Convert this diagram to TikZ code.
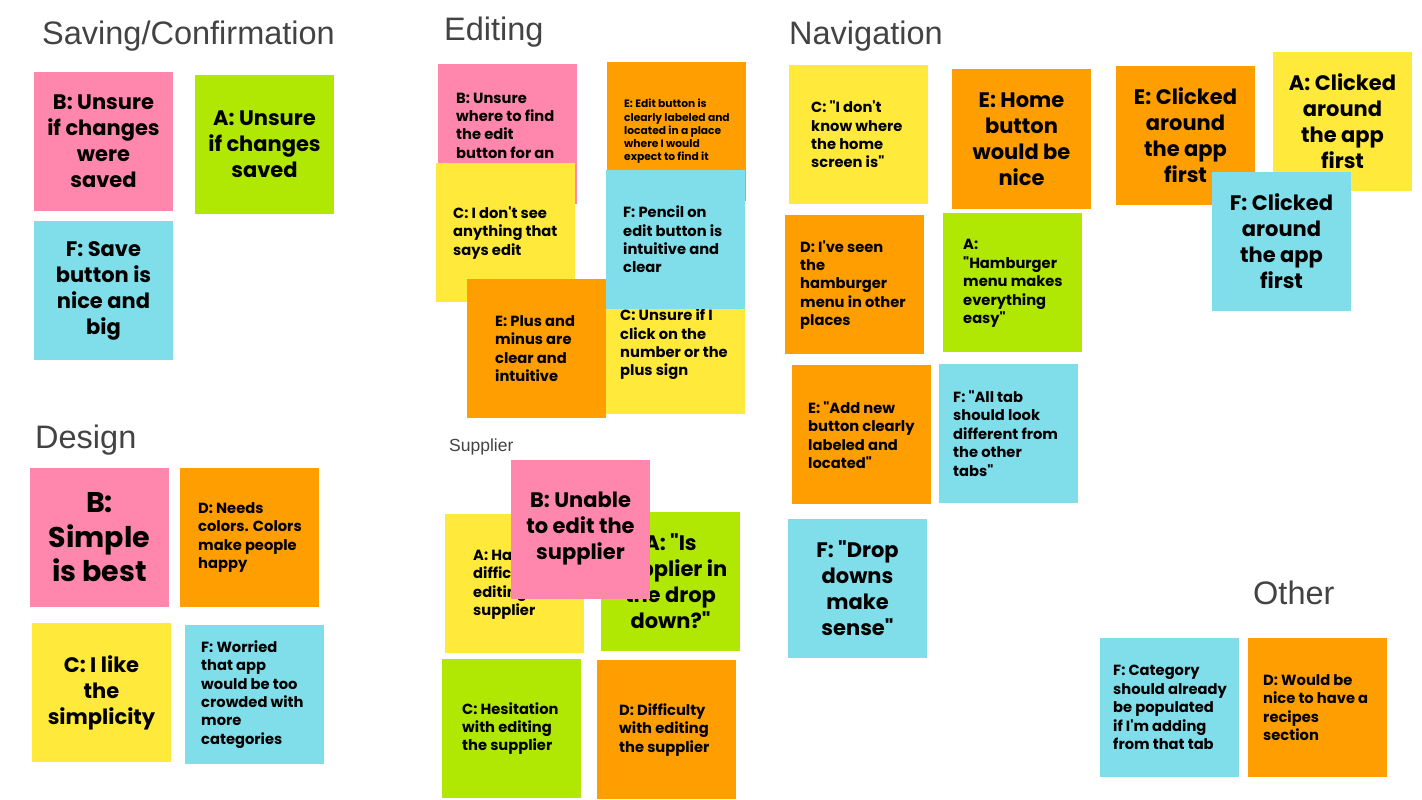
\documentclass[tikz,border=0pt]{standalone}
\usepackage{fontspec}
\setmainfont{Liberation Sans}
\newfontfamily\stickyfont{Poppins}
\definecolor{pinkS}{HTML}{FF87AD}
\definecolor{greenS}{HTML}{B0E804}
\definecolor{yellowS}{HTML}{FFEA3C}
\definecolor{blueS}{HTML}{80DEEA}
\definecolor{orangeS}{HTML}{FF9E00}
\definecolor{titlegray}{HTML}{434343}
\tikzset{
  sticky/.style={rectangle, minimum width=139pt, minimum height=139pt, inner sep=0pt, outer sep=0pt},
  pk/.style={sticky, fill=pinkS},
  gr/.style={sticky, fill=greenS},
  ye/.style={sticky, fill=yellowS},
  bl/.style={sticky, fill=blueS},
  og/.style={sticky, fill=orangeS},
  bigtxt/.style={font=\stickyfont\bfseries\fontsize{21}{26}\selectfont, align=center, inner sep=0pt},
  hugetxt/.style={font=\stickyfont\bfseries\fontsize{28.5}{34.5}\selectfont, align=center, inner sep=0pt},
  smalltxt/.style={font=\stickyfont\bfseries\fontsize{14.7}{18.4}\selectfont, align=left, inner sep=0pt, anchor=west},
  tinytxt/.style={font=\stickyfont\bfseries\fontsize{10.7}{13.3}\selectfont, align=left, inner sep=0pt, anchor=west},
  heading/.style={font=\fontsize{32.5}{38}\selectfont, text=titlegray, anchor=base west, inner sep=0pt},
  subheading/.style={font=\fontsize{17.5}{21}\selectfont, text=titlegray, anchor=base west, inner sep=0pt}
}
\begin{document}
\begin{tikzpicture}[x=1pt,y=-1pt]
\useasboundingbox (0,0) rectangle (1422,800);
\fill[white] (0,0) rectangle (1422,800);

% ---------- Saving/Confirmation ----------
\node[heading] (hsave) at (42,45) {Saving/Confirmation};
\node[pk] (s1) at (103.5,141.5) {};
\node[bigtxt] (t1) at (s1.center) {B: Unsure\\if changes\\were\\saved};
\node[gr] (s2) at (264.5,144.5) {};
\node[bigtxt] (t2) at (s2.center) {A: Unsure\\if changes\\saved};
\node[bl] (s3) at (103.5,290.5) {};
\node[bigtxt] (t3) at (s3.center) {F: Save\\button is\\nice and\\big};

% ---------- Design ----------
\node[heading] (hdesign) at (35,448) {Design};
\node[pk] (s4) at (99.5,537.5) {};
\node[hugetxt] (t4) at (s4.center) {B:\\Simple\\is best};
\node[og] (s5) at (249.5,537.5) {};
\node[smalltxt] (t5) at (198,537.5) {D: Needs\\colors. Colors\\make people\\happy};
\node[ye] (s6) at (101.5,692.5) {};
\node[bigtxt] (t6) at (s6.center) {C: I like\\the\\simplicity};
\node[bl] (s7) at (254.5,694.5) {};
\node[smalltxt] (t7) at (201,694.5) {F: Worried\\that app\\would be too\\crowded with\\more\\categories};

% ---------- Editing ----------
\node[heading] (hedit) at (444,41) {Editing};
\node[pk] (s8) at (507.5,134) {};
\node[smalltxt] (t8) at (456,125.5) {B: Unsure\\where to find\\the edit\\button for an};
\node[og] (s9) at (676.5,131.5) {};
\node[tinytxt] (t9) at (624,131.5) {E: Edit button is\\clearly labeled and\\located in a place\\where I would\\expect to find it};
\node[ye] (s10) at (505.5,232.5) {};
\node[smalltxt] (t10) at (453,233) {C: I don't see\\anything that\\says edit};
\node[ye] (s11) at (675.5,344.5) {};
\node[smalltxt] (t11) at (620,344.5) {C: Unsure if I\\click on the\\number or the\\plus sign};
\node[bl] (s12) at (675.5,239) {};
\node[smalltxt] (t12) at (623,239.5) {F: Pencil on\\edit button is\\intuitive and\\clear};
\node[og] (s13) at (536.5,348.5) {};
\node[smalltxt] (t13) at (495,348.5) {E: Plus and\\minus are\\clear and\\intuitive};

% ---------- Supplier ----------
\node[subheading] (hsupp) at (449,451) {Supplier};
\node[ye] (s14) at (514.5,583) {};
\node[smalltxt] (t14) at (473,584.5) {A: Had\\difficulty\\editing\\supplier};
\node[gr] (s15) at (670.5,581.5) {};
\node[bigtxt] (t15) at (s15.center) {A: "Is\\supplier in\\the drop\\down?"};
\node[pk] (s16) at (580.5,529) {};
\node[bigtxt] (t16) at (s16.center) {B: Unable\\to edit the\\supplier};
\node[gr] (s17) at (511.5,728.5) {};
\node[smalltxt] (t17) at (462,728.5) {C: Hesitation\\with editing\\the supplier};
\node[og] (s18) at (666.5,729) {};
\node[smalltxt] (t18) at (619,730) {D: Difficulty\\with editing\\the supplier};

% ---------- Navigation ----------
\node[heading] (hnav) at (789,45) {Navigation};
\node[ye] (s19) at (858.5,134.5) {};
\node[smalltxt] (t19) at (811,134.5) {C: "I don't\\know where\\the home\\screen is"};
\node[og] (s20) at (1021.5,139) {};
\node[bigtxt] (t20) at (s20.center) {E: Home\\button\\would be\\nice};
\node[og] (s21) at (854.5,284) {};
\node[smalltxt] (t21) at (800,285) {D: I've seen\\the\\hamburger\\menu in other\\places};
\node[gr] (s22) at (1012.5,282.5) {};
\node[smalltxt] (t22) at (963,283.5) {A:\\"Hamburger\\menu makes\\everything\\easy"};
\node[og] (s23) at (861.5,434.5) {};
\node[smalltxt] (t23) at (808,435) {E: "Add new\\button clearly\\labeled and\\located"};
\node[bl] (s24) at (1008.5,433.5) {};
\node[smalltxt] (t24) at (953,433.5) {F: "All tab\\should look\\different from\\the other\\tabs"};
\node[bl] (s25) at (857.5,588.5) {};
\node[bigtxt] (t25) at (s25.center) {F: "Drop\\downs\\make\\sense"};

% ---------- Clicked around ----------
\node[og] (s26) at (1185.5,135.5) {};
\node[bigtxt] (t26) at (s26.center) {E: Clicked\\around\\the app\\first};
\node[ye] (s27) at (1342.5,121.5) {};
\node[bigtxt] (t27) at (s27.center) {A: Clicked\\around\\the app\\first};
\node[bl] (s28) at (1281.5,241.5) {};
\node[bigtxt] (t28) at (s28.center) {F: Clicked\\around\\the app\\first};

% ---------- Other ----------
\node[heading] (hother) at (1253,604) {Other};
\node[bl] (s29) at (1169.5,707.5) {};
\node[smalltxt] (t29) at (1113,707.5) {F: Category\\should already\\be populated\\if I'm adding\\from that tab};
\node[og] (s30) at (1317.5,707.5) {};
\node[smalltxt] (t30) at (1263,707.5) {D: Would be\\nice to have a\\recipes\\section};
\end{tikzpicture}
\end{document}
